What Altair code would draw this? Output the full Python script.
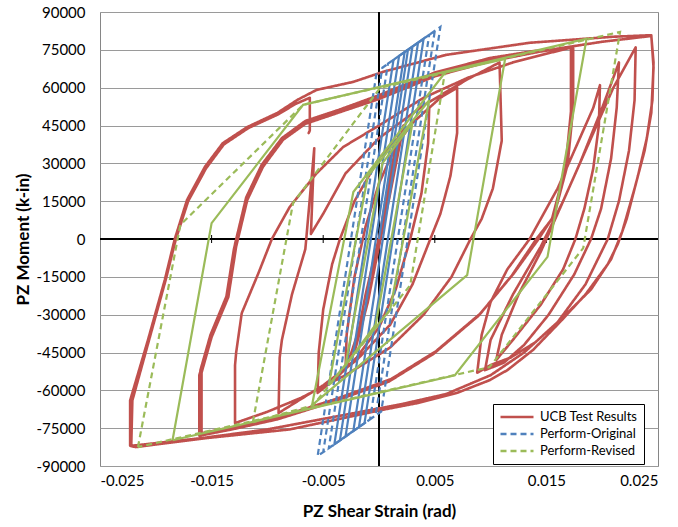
import altair as alt
import pandas as pd

# ---------------- axis values ----------------
x_ticks = [-0.025, -0.015, -0.005, 0.005, 0.015, 0.025]
zero_line_ticks = [-0.015, -0.005, 0.005, 0.015]
y_ticks = [-90000, -75000, -60000, -45000, -30000, -15000, 0, 15000, 30000, 45000, 60000, 75000, 90000]

series_names = ["UCB Test Results", "Perform-Original", "Perform-Revised"]
series_colors = ["#C0504D", "#4F81BD", "#9BBB59"]

# ---------------- UCB test results: (strain, moment) per branch, in loading order ----------------
ucb_small = [(0.0, 0), (0.0012, 30000), (0.0018, 42000), (0.0008, 15000), (-0.0010, -25000), (-0.0022, -45000),
             (-0.0012, -22000), (0.0005, 10000), (0.0022, 45000), (0.0010, 18000), (-0.0012, -28000), (-0.0030, -52000)]
ucb_up0 = [(-0.0029, -38000), (-0.0022, -15000), (-0.0012, 5000), (0.0, 22000), (0.0015, 37000), (0.0030, 46000), (0.0045, 52000)]
ucb_dn1 = [(0.0044, 38000), (0.0038, 18000), (0.0028, 0), (0.0015, -20000), (0.0, -35000), (-0.0020, -47000),
           (-0.0038, -55000), (-0.0055, -61000)]
ucb_up1 = [(-0.0054, -45000), (-0.0050, -28000), (-0.0042, -10000), (-0.0035, 0), (-0.0022, 15000), (0.0, 32000),
           (0.0030, 46000), (0.0055, 56000), (0.0070, 60000)]
ucb_dn2 = [(0.0070, 42000), (0.0064, 25000), (0.0055, 10000), (0.0046, 0), (0.0030, -18000), (0.0010, -34000),
           (-0.0020, -48000), (-0.0050, -58000), (-0.0090, -69000)]
ucb_up2 = [(-0.0089, -47000), (-0.0087, -40000), (-0.0078, -22000), (-0.0066, -4000), (-0.0058, 36000), (-0.0061, 2000),
           (-0.0050, 10000), (-0.0030, 26000), (0.0, 40000), (0.0040, 53000), (0.0080, 63500), (0.0108, 70000)]
ucb_dn3 = [(0.0110, 39000), (0.0102, 20000), (0.0092, 8000), (0.0082, 0), (0.0065, -15000), (0.0040, -30000),
           (0.0010, -43000), (-0.0030, -54000), (-0.0070, -63000), (-0.0100, -68500), (-0.0129, -73000)]
ucb_up3 = [(-0.0129, -50000), (-0.0128, -45000), (-0.0123, -29400), (-0.0108, -13500), (-0.0096, 0), (-0.0080, 12700),
           (-0.0056, 26000), (-0.0032, 36500), (0.0, 45000), (0.0040, 56000), (0.0080, 64000), (0.0120, 70000),
           (0.0155, 74000), (0.0173, 76000)]
ucb_dn4a = [(0.0173, 51000), (0.0168, 28600), (0.0156, 8700), (0.0142, 0), (0.0120, -14000), (0.0090, -30000),
            (0.0050, -45000), (0.0010, -56000), (-0.0040, -64000), (-0.0090, -71000), (-0.0130, -74500), (-0.0159, -77000)]
ucb_up4a = [(-0.0159, -53000), (-0.0150, -38900), (-0.0135, -23000), (-0.0128, -3000), (-0.0118, 15500), (-0.0104, 28600),
            (-0.0086, 39300), (-0.0065, 46000), (-0.0035, 50400), (0.0, 56000), (0.0050, 65000), (0.0100, 71000),
            (0.0140, 74000), (0.0174, 76300)]
ucb_dn4b = [(0.0174, 52000), (0.0169, 29500), (0.0157, 9500), (0.0143, 0), (0.0121, -13500), (0.0091, -29500),
            (0.0051, -44500), (0.0011, -55500), (-0.0039, -63500), (-0.0089, -70500), (-0.0131, -74800), (-0.0160, -77500)]
ucb_up4b = [(-0.0160, -52000), (-0.0151, -38000), (-0.0136, -22000), (-0.0129, -2000), (-0.0119, 16500), (-0.0105, 29500),
            (-0.0087, 40000), (-0.0066, 46800), (-0.0036, 51200), (0.0, 57000), (0.0050, 66000), (0.0100, 71800),
            (0.0140, 74600), (0.0172, 75800)]
ucb_dn4c = [(0.0172, 50500), (0.0167, 28000), (0.0155, 8000), (0.0141, 0), (0.0119, -14500), (0.0089, -30500),
            (0.0049, -45500), (0.0009, -56500), (-0.0041, -64500), (-0.0091, -71500), (-0.0132, -75500), (-0.0161, -78000)]
ucb_up4c = [(-0.0161, -54000), (-0.0152, -39500), (-0.0137, -23500), (-0.0130, -4000), (-0.0120, 14500), (-0.0106, 28000),
            (-0.0088, 38800), (-0.0067, 45500), (-0.0037, 50000), (0.0, 55500), (0.0050, 64500), (0.0100, 70500),
            (0.0150, 74800), (0.0200, 78200), (0.0244, 80500)]
ucb_dn5a = [(0.0246, 70000), (0.0245, 55000), (0.0240, 40000), (0.0232, 25000), (0.0222, 8000), (0.0214, -2000),
            (0.0205, -10000), (0.0185, -22000), (0.0162, -33000), (0.0138, -44000), (0.0115, -52000), (0.0099, -56000),
            (0.0070, -61000), (0.0035, -65000), (0.0, -68000), (-0.0080, -75500), (-0.0156, -79000), (-0.0218, -82500),
            (-0.0223, -82000)]
ucb_up5a = [(-0.0223, -64000), (-0.0207, -40000), (-0.0192, -16300), (-0.0183, 0), (-0.0172, 15500), (-0.0156, 28600),
            (-0.0140, 38000), (-0.0118, 44400), (-0.0091, 50000), (-0.0073, 55200), (-0.0056, 59100), (-0.0023, 62300),
            (0.0004, 66300), (0.0060, 73000), (0.0135, 77800), (0.0210, 80200), (0.0244, 80800)]
ucb_dn5b = [(0.0246, 68000), (0.0244, 50000), (0.0238, 35000), (0.0229, 20000), (0.0218, 3000), (0.0208, -8000),
            (0.0190, -20000), (0.0165, -31000), (0.0140, -41000), (0.0118, -47000), (0.0100, -50000), (0.0088, -53000)]
ucb_il1_up = [(0.0092, -38000), (0.0100, -25000), (0.0115, -12000), (0.0135, 0), (0.0160, 20000), (0.0180, 40000),
              (0.0192, 52000), (0.0198, 61000)]
ucb_il1_dn = [(0.0197, 45000), (0.0192, 28000), (0.0184, 12000), (0.0176, 0), (0.0165, -12000), (0.0145, -26000),
              (0.0120, -40000), (0.0105, -48000)]
ucb_il2_up = [(0.0110, -38000), (0.0125, -22000), (0.0145, -5000), (0.0158, 8000), (0.0180, 30000), (0.0200, 52000),
              (0.0215, 70000)]
ucb_il2_dn = [(0.0213, 52000), (0.0208, 32000), (0.0199, 12000), (0.0190, 0), (0.0175, -14000), (0.0152, -30000),
              (0.0130, -42000), (0.0112, -49000), (0.0095, -52000)]
ucb_il3_up = [(0.0100, -40000), (0.0120, -22000), (0.0145, -3000), (0.0165, 15000), (0.0190, 40000), (0.0210, 60000),
              (0.0230, 76000)]
ucb_il3_dn = [(0.0229, 55000), (0.0224, 35000), (0.0215, 15000), (0.0205, 0), (0.0185, -18000), (0.0160, -33000),
              (0.0130, -45000), (0.0100, -54000), (0.0060, -61500), (0.0020, -65500), (-0.0040, -70500),
              (-0.0100, -75500), (-0.0160, -79000), (-0.0222, -82000)]
ucb_final = [(-0.0221, -64000), (-0.0206, -40000), (-0.0191, -16000), (-0.0182, 0), (-0.0171, 15000), (-0.0155, 28000),
             (-0.0139, 37500), (-0.0117, 44000), (-0.0090, 49500), (-0.0075, 53500), (-0.0062, 56000), (-0.0062, 43000),
             (-0.0063, 42000)]

ucb_branches = [ucb_small, ucb_up0, ucb_dn1, ucb_up1, ucb_dn2, ucb_up2, ucb_dn3, ucb_up3, ucb_dn4a, ucb_up4a,
                ucb_dn4b, ucb_up4b, ucb_dn4c, ucb_up4c, ucb_dn5a, ucb_up5a, ucb_dn5b, ucb_il1_up, ucb_il1_dn,
                ucb_il2_up, ucb_il2_dn, ucb_il3_up, ucb_il3_dn, ucb_final]

# ---------------- Perform-Original (blue) ----------------
orig_solid = [(0.0, 0), (0.0026, 75100), (0.0030, 76300), (-0.0023, -76100), (-0.0030, -78300), (0.0023, 74100),
              (0.0035, 77850), (-0.0018, -74600), (-0.0035, -79850), (0.0018, 72600), (0.0040, 79400),
              (-0.0013, -73000), (-0.0040, -81400), (0.0013, 71000)]
orig_dash = [(0.0013, 71000), (0.0045, 80950), (-0.0008, -71500), (-0.0045, -82950), (0.0008, 69500), (0.0050, 82500),
             (-0.0003, -69900), (-0.0050, -84500), (0.0003, 67900), (0.0055, 84050), (0.0002, -68400),
             (-0.0055, -86050), (-0.0002, 66400)]

# ---------------- Perform-Revised (green) ----------------
rev_solid_a = [(-0.0185, -79800), (-0.0150, 6300), (-0.0068, 53200), (0.0186, 79400), (0.0151, -7100),
               (0.0068, -54000), (-0.0185, -79800)]
rev_solid_b = [(-0.0060, -65900), (-0.0023, 18600), (0.0059, 65900), (0.0113, 71400), (0.0079, -14300),
               (-0.0060, -65900)]
rev_solid_c = [(-0.0030, -50000), (0.0003, 30000), (0.0030, 46000), (-0.0003, -34000), (-0.0030, -50000)]
rev_solid_d = [(-0.0045, -58000), (-0.0010, 25000), (0.0045, 55000), (0.0010, -28000), (-0.0045, -58000)]
rev_dash_a = [(-0.0216, -82500), (-0.0178, 5600), (-0.0068, 53200), (0.0216, 82100), (0.0183, -3600),
              (0.0099, -50800), (-0.0216, -82500)]
rev_dash_b = [(-0.0113, -72600), (-0.0077, 14300), (0.0001, 59900), (0.0059, 65900), (0.0028, -18300),
              (-0.0059, -65900), (-0.0113, -72600)]


def to_frame(paths, series):
    rows = []
    for p_i, path in enumerate(paths):
        for k, (sx, my) in enumerate(path):
            rows.append({"x": sx, "y": my, "path": p_i, "order": k, "series": series})
    return pd.DataFrame(rows)


ucb_points = [pt for br in ucb_branches for pt in br]
df_ucb = to_frame([ucb_points], "UCB Test Results")
df_orig_solid = to_frame([orig_solid], "Perform-Original")
df_orig_dash = to_frame([orig_dash], "Perform-Original")
df_rev_solid = to_frame([rev_solid_a, rev_solid_b, rev_solid_c, rev_solid_d], "Perform-Revised")
df_rev_dash = to_frame([rev_dash_a, rev_dash_b], "Perform-Revised")
df_ticks = pd.DataFrame({"x": zero_line_ticks, "y": [0] * len(zero_line_ticks)})

FONT = "Lato"

X = alt.X("x:Q", scale=alt.Scale(domain=[-0.025, 0.025], nice=False, zero=False),
          axis=alt.Axis(values=x_ticks, tickCount=20, title="PZ Shear Strain (rad)", labelExpr="'' + datum.value",
                        grid=False, ticks=False, domain=False, labelPadding=7, titlePadding=15,
                        labelOverlap=False, labelFont=FONT, labelFontSize=15, labelColor="black",
                        titleFont=FONT, titleFontSize=17, titleFontWeight="bold", titleColor="black"))
Y = alt.Y("y:Q", scale=alt.Scale(domain=[-90000, 90000], nice=False),
          axis=alt.Axis(values=y_ticks, tickCount=20, title="PZ Moment (k-in)", labelExpr="'' + datum.value",
                        grid=True, gridColor="#9a9a9a", gridWidth=1, ticks=False, domain=False,
                        labelPadding=15, titlePadding=3, labelOverlap=False,
                        labelFont=FONT, labelFontSize=15, labelColor="black",
                        titleFont=FONT, titleFontSize=17, titleFontWeight="bold", titleColor="black"))

legend = alt.Legend(title=None, orient="none", legendX=393, legendY=392, fillColor="white",
                    strokeColor="black", padding=6, labelFont=FONT, labelFontSize=13, labelColor="black",
                    symbolType="M-1,0H5", symbolSize=121, symbolStrokeWidth=2.5, rowPadding=3,
                    labelOffset=27)
C = alt.Color("series:N", scale=alt.Scale(domain=series_names, range=series_colors), legend=legend)
D = alt.StrokeDash("series:N", scale=alt.Scale(domain=series_names, range=[[1, 0], [6, 4], [6, 4]]), legend=legend)

one = pd.DataFrame({"v": [0]})
zero_v = alt.Chart(one).mark_rule(color="black", strokeWidth=2).encode(x=alt.datum(0))
zero_h = alt.Chart(one).mark_rule(color="black", strokeWidth=2).encode(y=alt.datum(0))
ticks = alt.Chart(df_ticks).mark_point(shape="M0,-1L0,1", size=64, filled=False, color="black",
                                       strokeWidth=1, opacity=1).encode(x=X, y=Y)

red = alt.Chart(df_ucb).mark_line(strokeWidth=2.6, strokeJoin="round", strokeCap="round").encode(
    x=X, y=Y, order="order:Q", color=C, strokeDash=D)
blue_s = alt.Chart(df_orig_solid).mark_line(strokeWidth=2.2, color="#4F81BD").encode(
    x=X, y=Y, order="order:Q", detail="path:N")
blue_d = alt.Chart(df_orig_dash).mark_line(strokeWidth=2.2).encode(
    x=X, y=Y, order="order:Q", detail="path:N", color=C, strokeDash=D)
green_s = alt.Chart(df_rev_solid).mark_line(strokeWidth=2.2, color="#9BBB59").encode(
    x=X, y=Y, order="order:Q", detail="path:N")
green_d = alt.Chart(df_rev_dash).mark_line(strokeWidth=2.2).encode(
    x=X, y=Y, order="order:Q", detail="path:N", color=C, strokeDash=D)

chart = alt.layer(zero_v, zero_h, ticks, red, blue_s, blue_d, green_s, green_d).properties(
    width=558, height=454,
    background="white",
    autosize=alt.AutoSizeParams(type="none"),
    padding={"left": 100, "top": 12, "right": 20, "bottom": 61},
).configure_view(stroke="#868686", strokeWidth=1)

chart.save("out.html", embed_options={"renderer": "svg", "actions": False})
